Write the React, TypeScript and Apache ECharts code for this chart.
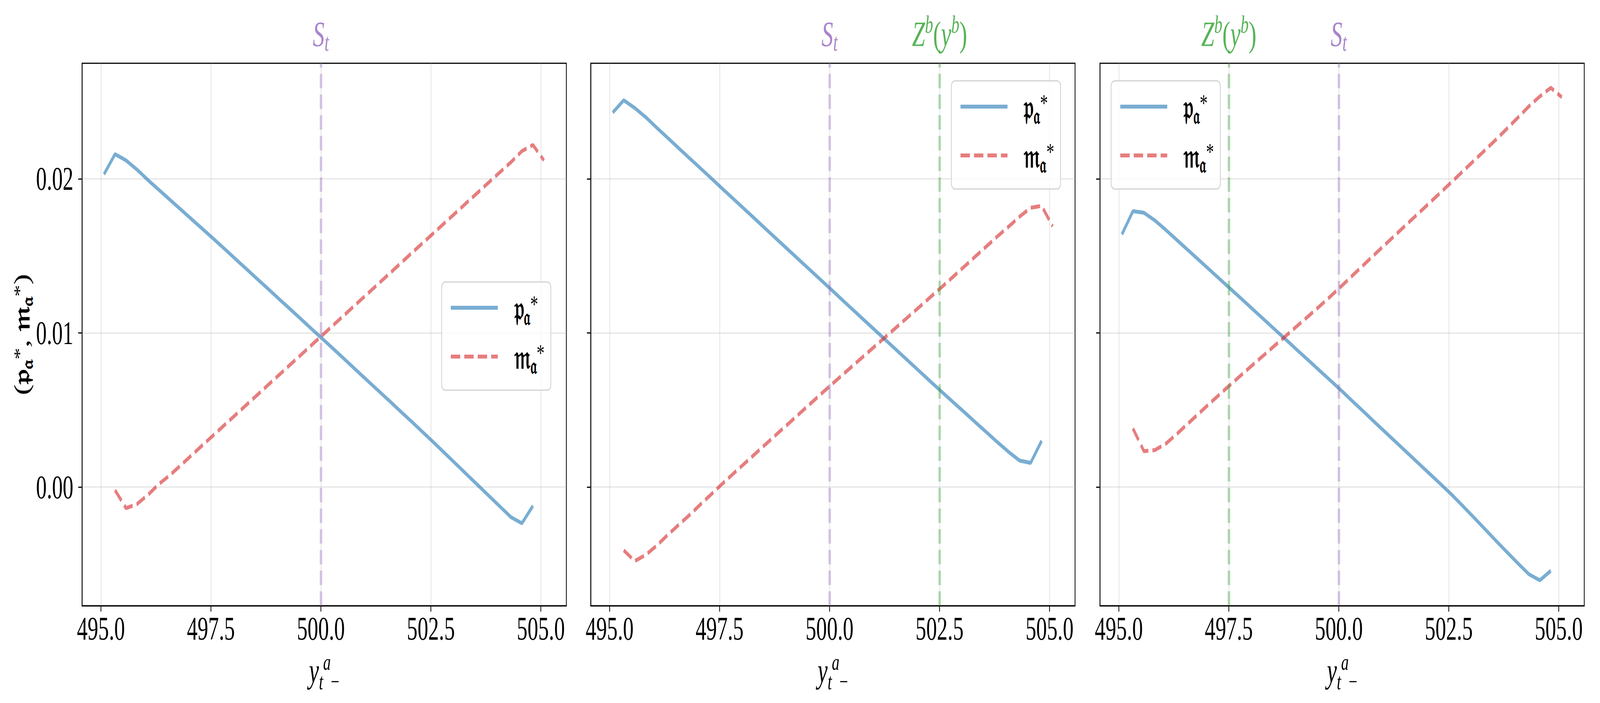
import React, { useEffect, useRef } from 'react';
import * as echarts from 'echarts';

// ---------------- data ----------------
const xValues = [
  495.07, 495.32, 495.57, 495.82, 496.07, 496.32, 496.57, 496.82, 497.07, 497.32,
  497.57, 497.82, 498.07, 498.32, 498.57, 498.82, 499.07, 499.32, 499.57, 499.82,
  500.07, 500.32, 500.57, 500.82, 501.07, 501.32, 501.57, 501.82, 502.07, 502.32,
  502.57, 502.82, 503.07, 503.32, 503.57, 503.82, 504.07, 504.32, 504.57, 504.82,
  505.07,
];

// panel 1 (S_t = 500)
const p1 = [
  0.0203, 0.0216, 0.0212, 0.0206, 0.01992, 0.01928, 0.01864, 0.018, 0.01736, 0.01672,
  0.01608, 0.01543, 0.01477, 0.01412, 0.01346, 0.01281, 0.01215, 0.0115, 0.01084, 0.01018,
  0.00953, 0.00887, 0.00821, 0.00754, 0.00688, 0.00622, 0.00556, 0.00489, 0.00423, 0.00355,
  0.00288, 0.00219, 0.0015, 0.00081, 0.00012, -0.00057, -0.00126, -0.00195, -0.00235, -0.00122,
  null,
];
const m1 = [
  null, -0.0002, -0.00137, -0.0011, -0.0005, 0.0002, 0.00078, 0.00143, 0.00209, 0.00275,
  0.0034, 0.00406, 0.00471, 0.00537, 0.00602, 0.00668, 0.00733, 0.00799, 0.00864, 0.0093,
  0.00995, 0.01061, 0.01126, 0.01192, 0.01257, 0.01323, 0.01388, 0.01454, 0.0152, 0.01585,
  0.0165, 0.01716, 0.01781, 0.01847, 0.01912, 0.01978, 0.02043, 0.02108, 0.0218, 0.0222,
  0.0212,
];

// panel 2 (S_t = 500, Z^b(y^b) = 502.5)
const p2 = [
  0.0243, 0.0251, 0.0246, 0.024, 0.02332, 0.02266, 0.02199, 0.02133, 0.02067, 0.02001,
  0.01934, 0.01868, 0.01802, 0.01736, 0.01669, 0.01603, 0.01537, 0.01471, 0.01405, 0.01339,
  0.01273, 0.01206, 0.0114, 0.01074, 0.01008, 0.00942, 0.00876, 0.0081, 0.00744, 0.00678,
  0.00613, 0.00548, 0.00484, 0.00419, 0.00355, 0.0029, 0.00228, 0.00172, 0.00157, 0.003,
  null,
];
const m2 = [
  null, -0.0041, -0.0048, -0.0044, -0.0038, -0.0031, -0.00245, -0.0018, -0.00111, -0.00044,
  0.00024, 0.00089, 0.00154, 0.00219, 0.00284, 0.00349, 0.00413, 0.00478, 0.00543, 0.00608,
  0.00672, 0.00735, 0.00798, 0.00861, 0.00924, 0.00987, 0.0105, 0.01113, 0.01176, 0.0124,
  0.01303, 0.01368, 0.01433, 0.01498, 0.01563, 0.01628, 0.0169, 0.01755, 0.01812, 0.01825,
  0.01692,
];

// panel 3 (S_t = 500, Z^b(y^b) = 497.5)
const p3 = [
  0.0164, 0.0179, 0.0178, 0.0173, 0.01668, 0.01603, 0.01538, 0.01473, 0.01408, 0.01343,
  0.01278, 0.01213, 0.01147, 0.01082, 0.01016, 0.00951, 0.00885, 0.0082, 0.00754, 0.00689,
  0.00623, 0.00555, 0.00488, 0.0042, 0.00353, 0.00286, 0.00219, 0.00152, 0.00085, 0.00018,
  -0.0005, -0.00123, -0.00197, -0.00272, -0.00347, -0.00421, -0.00494, -0.00565, -0.00605, -0.00543,
  null,
];
const m3 = [
  null, 0.0038, 0.00233, 0.0024, 0.00282, 0.00345, 0.00412, 0.00478, 0.00544, 0.00609,
  0.00673, 0.00737, 0.008, 0.00862, 0.00925, 0.00987, 0.0105, 0.01112, 0.01175, 0.0124,
  0.01307, 0.01375, 0.01443, 0.01511, 0.01578, 0.01645, 0.01712, 0.01779, 0.01846, 0.01913,
  0.01981, 0.02049, 0.02117, 0.02185, 0.02254, 0.02325, 0.02397, 0.0247, 0.02535, 0.02591,
  0.0253,
];

const stValues = [500, 500, 500];
const zbValues = [null, 502.5, 497.5];

const xTicks = [495, 497.5, 500, 502.5, 505];
const yTicks = [0, 0.01, 0.02];
const xRange = [494.57, 505.58];
const yRange = [-0.0077, 0.0275];

// ---------------- styles ----------------
const W = 6300;
const H = 1800;
const SERIF = '"Liberation Serif", "DejaVu Serif", serif';
const FRAK = '"DejaVu Serif", "DejaVu Sans", "Noto Sans", serif';
const BLUE = 'rgba(31,119,180,0.6)';
const RED = 'rgba(214,39,40,0.6)';
const PURPLE_LINE = 'rgba(148,103,189,0.35)';
const PURPLE_TEXT = 'rgba(148,103,189,0.8)';
const GREEN_LINE = 'rgba(44,160,44,0.35)';
const GREEN_TEXT = 'rgba(44,160,44,0.8)';
const GRID_COLOR = 'rgba(176,176,176,0.3)';
const DASH = [37, 16];

const gridLefts = [323, 2326, 4331];
const gridTop = 162;
const gridW = 1907;
const gridH = 1389;
const legendPos = [
  { left: 1739, top: 722 },
  { left: 3746, top: 207 },
  { left: 4375, top: 207 },
];

const P = '\u{1D52D}';
const M = '\u{1D52A}';
const A = '\u{1D51E}';

const frakRich = {
  f: { fontFamily: FRAK, fontWeight: 'bold', fontSize: 84, lineHeight: 100, color: '#000' },
  sub: { fontFamily: FRAK, fontWeight: 'bold', fontSize: 58, height: 52, lineHeight: 52, verticalAlign: 'bottom', color: '#000' },
  sup: { fontFamily: SERIF, fontSize: 62, height: 80, lineHeight: 80, verticalAlign: 'top', color: '#000' },
  n: { fontFamily: SERIF, fontSize: 84, lineHeight: 100, color: '#000' },
};

function markRich(color: string) {
  return {
    i: { fontFamily: SERIF, fontStyle: 'italic', fontSize: 92, lineHeight: 110, color },
    n: { fontFamily: SERIF, fontSize: 92, lineHeight: 110, color },
    sub: { fontFamily: SERIF, fontStyle: 'italic', fontSize: 64, height: 66, lineHeight: 66, verticalAlign: 'bottom', color },
    sup: { fontFamily: SERIF, fontStyle: 'italic', fontSize: 64, height: 62, lineHeight: 62, verticalAlign: 'top', color },
  };
}

const xNameRich = {
  y: { fontFamily: SERIF, fontStyle: 'italic', fontSize: 88, lineHeight: 120, color: '#000' },
  t: { fontFamily: SERIF, fontStyle: 'italic', fontSize: 60, height: 64, lineHeight: 64, verticalAlign: 'bottom', color: '#000' },
  a: { fontFamily: SERIF, fontStyle: 'italic', fontSize: 60, height: 76, lineHeight: 76, verticalAlign: 'top', color: '#000' },
  m: { fontFamily: SERIF, fontSize: 60, height: 64, lineHeight: 64, verticalAlign: 'bottom', color: '#000' },
};

function pairs(ys: (number | null)[]) {
  const out: number[][] = [];
  xValues.forEach((x, i) => {
    const y = ys[i];
    if (y !== null && y !== undefined) out.push([x, y]);
  });
  return out;
}

const panels = [
  { p: p1, m: m1 },
  { p: p2, m: m2 },
  { p: p3, m: m3 },
];

function buildOption() {
  const grid = gridLefts.map((left) => ({
    left,
    top: gridTop,
    width: gridW,
    height: gridH,
    show: true,
    borderColor: '#000',
    borderWidth: 3,
    backgroundColor: 'transparent',
  }));

  const xAxis = gridLefts.map((_, i) => ({
    type: 'value',
    gridIndex: i,
    min: xRange[0],
    max: xRange[1],
    axisLine: { show: true, onZero: false, lineStyle: { color: '#000', width: 3 } },
    axisTick: { show: true, length: 15, lineStyle: { color: '#000', width: 3 }, customValues: xTicks },
    axisLabel: {
      show: true,
      customValues: xTicks,
      formatter: (v: number) => v.toFixed(1),
      fontFamily: SERIF,
      fontSize: 84,
      color: '#000',
      margin: 17,
    },
    splitLine: { show: true, lineStyle: { color: GRID_COLOR, width: 3.5 } },
    name: '{y|y}{t|t}{a|a}{m|\u2212}',
    nameLocation: 'middle',
    nameGap: 94,
    nameTextStyle: { rich: xNameRich },
  }));

  const yAxis = gridLefts.map((_, i) => ({
    type: 'value',
    gridIndex: i,
    min: yRange[0],
    max: yRange[1],
    axisLine: { show: true, lineStyle: { color: '#000', width: 3 } },
    axisTick: { show: true, length: 15, lineStyle: { color: '#000', width: 3 }, customValues: yTicks },
    axisLabel: {
      show: i === 0,
      customValues: yTicks,
      formatter: (v: number) => v.toFixed(2),
      fontFamily: SERIF,
      fontSize: 84,
      color: '#000',
      margin: 34,
    },
    splitLine: { show: true, lineStyle: { color: GRID_COLOR, width: 3.5 } },
    ...(i === 0
      ? {
          name: `{n|(}{f|${P}}{sub|${A}}{sup|*}{n|, }{f|${M}}{sub|${A}}{sup|*}{n|)}`,
          nameLocation: 'middle',
          nameRotate: 90,
          nameGap: 186,
          nameTextStyle: { rich: frakRich },
        }
      : {}),
  }));

  const series: any[] = [];
  panels.forEach((pn, i) => {
    const markData: any[] = [
      {
        xAxis: stValues[i],
        lineStyle: { color: PURPLE_LINE, width: 10, type: DASH },
        label: {
          show: true,
          position: 'end',
          distance: 20,
          formatter: '{i|S}{sub|t}',
          rich: markRich(PURPLE_TEXT),
        },
      },
    ];
    if (zbValues[i] !== null) {
      markData.push({
        xAxis: zbValues[i],
        lineStyle: { color: GREEN_LINE, width: 10, type: DASH },
        label: {
          show: true,
          position: 'end',
          distance: 20,
          formatter: '{i|Z}{sup|b}{n|(}{i|y}{sup|b}{n|)}',
          rich: markRich(GREEN_TEXT),
        },
      });
    }
    series.push({
      type: 'line',
      name: 'p',
      xAxisIndex: i,
      yAxisIndex: i,
      data: pairs(pn.p),
      symbol: 'none',
      showSymbol: false,
      lineStyle: { color: BLUE, width: 10, type: 'solid' },
      itemStyle: { color: BLUE },
      z: 3,
      markLine: {
        silent: true,
        symbol: ['none', 'none'],
        animation: false,
        data: markData,
      },
    });
    series.push({
      type: 'line',
      name: 'm',
      xAxisIndex: i,
      yAxisIndex: i,
      data: pairs(pn.m),
      symbol: 'none',
      showSymbol: false,
      lineStyle: { color: RED, width: 10, type: DASH },
      itemStyle: { color: RED },
      z: 3,
    });
  });

  const legend = legendPos.map((pos) => ({
    left: pos.left,
    top: pos.top,
    orient: 'vertical',
    itemWidth: 185,
    itemHeight: 14,
    itemGap: 22,
    padding: [16, 25, 33, 31],
    backgroundColor: 'rgba(255,255,255,0.8)',
    borderColor: 'rgba(204,204,204,0.9)',
    borderWidth: 3,
    borderRadius: 14,
    selectedMode: false,
    itemStyle: { opacity: 0 },
    data: [
      { name: 'p', lineStyle: { width: 10, color: BLUE, type: 'solid' }, itemStyle: { opacity: 0 } },
      { name: 'm', lineStyle: { width: 10, color: RED, type: DASH }, itemStyle: { opacity: 0 } },
    ],
    formatter: (name: string) =>
      name === 'p' ? `{f|${P}}{sub|${A}}{sup|*}` : `{f|${M}}{sub|${A}}{sup|*}`,
    textStyle: { padding: [0, 0, 0, 60], width: 140, rich: frakRich },
  }));

  return {
    animation: false,
    backgroundColor: '#ffffff',
    grid,
    xAxis,
    yAxis,
    legend,
    series,
  };
}

export default function App() {
  const ref = useRef<HTMLDivElement>(null);
  const vw = typeof window !== 'undefined' ? window.innerWidth || W : W;
  const vh = typeof window !== 'undefined' ? window.innerHeight || H : H;
  const sx = vw / W;
  const sy = vh / H;
  useEffect(() => {
    if (!ref.current) return;
    const chart = echarts.init(ref.current, undefined, { renderer: 'svg' });
    chart.setOption(buildOption() as any);
    return () => chart.dispose();
  }, []);
  return (
    <div
      style={{
        position: 'absolute',
        left: 0,
        top: 0,
        width: vw,
        height: vh,
        overflow: 'hidden',
        background: '#fff',
      }}
    >
      <div
        ref={ref}
        style={{
          width: W,
          height: H,
          transform: `scale(${sx}, ${sy})`,
          transformOrigin: '0 0',
          background: '#fff',
        }}
      />
    </div>
  );
}
